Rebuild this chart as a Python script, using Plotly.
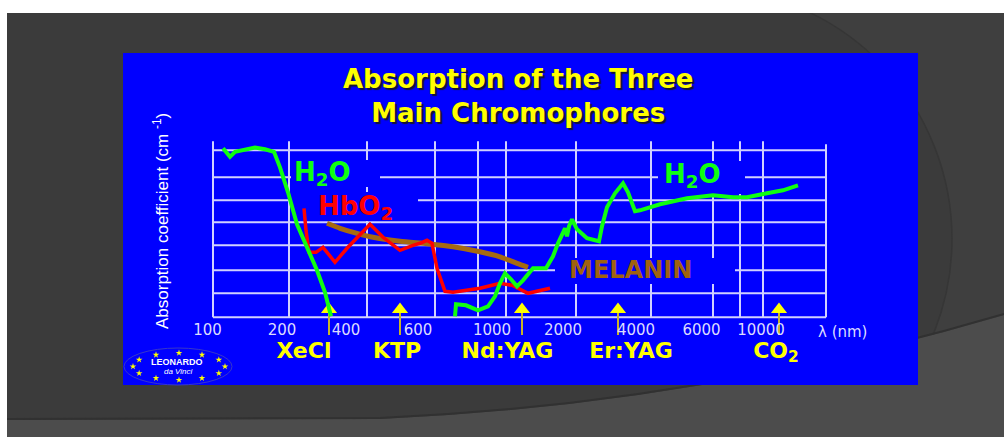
import numpy as np
import plotly.graph_objects as go

# Page size and the origin of the chart frame (in page pixels)
W, H = 1004, 437
X0, Y0 = 213.0, 317.3

# ---------------- data ----------------
# Water absorption (UV branch and IR branch, drawn as one broken line)
h2o_uv_x = [10, 17, 22, 42, 52, 61, 67, 75, 84, 94, 104, 112, 118]
h2o_uv_y = [169, 160.5, 165.5, 169.7, 168, 165.5, 150, 125, 93, 70, 47, 25, 1]
h2o_ir_x = [242, 243, 253, 265, 275, 282, 287, 292, 298, 304, 310, 320, 333, 340,
            345, 349, 352, 354, 356, 359, 364, 374, 386, 389, 394, 402, 410, 415,
            422, 427, 447, 474, 500, 520, 534, 554, 570, 585]
h2o_ir_y = [1, 13, 12, 7, 11, 21, 34, 44, 38, 31, 37, 49, 49, 61,
            74, 84, 89, 81, 91, 98, 88, 79, 76, 91, 110, 124, 134, 125,
            106, 107, 113, 119, 122, 120, 120, 124, 127, 132]

# Oxyhaemoglobin
hbo2_x = [91, 93, 96, 103, 110, 122, 134, 145, 157, 170, 187, 200, 207, 214,
          219, 224, 232, 240, 267, 287, 299, 315, 337]
hbo2_y = [109, 87, 65, 65, 70, 55, 69, 81, 93, 80, 67, 72, 74, 77,
          74, 49, 26, 25, 29, 34, 32, 24, 29]

# Melanin
melanin_x = [114, 127, 144, 160, 187, 214, 240, 267, 287, 304, 315]
melanin_y = [94, 89, 84, 80, 76, 73.5, 70.5, 65.5, 60.5, 54, 50]

# Wavelength axis labels
tick_text = ["100", "200", "400", "600", "1000", "2000", "4000", "6000", "10000"]
tick_pos = [-5.5, 69, 133, 205, 279, 350, 423, 488.5, 548]

# Laser lines
laser_names = ["XeCl", "KTP", "Nd:YAG", "Er:YAG", "CO<sub>2</sub>"]
laser_label_x = [91, 184, 294.5, 418, 563]
laser_arrow_x = [116, 187, 309, 405, 566]

# Chart grid
grid_x = [0, 76, 154, 222, 265, 293, 363, 438, 500, 527, 550, 613]
grid_top = [176, 176, 176, 176, 176, 176, 176, 176, 176, 176, 176, 173]
grid_y = [0, 24, 47, 72, 95, 117, 140, 167]

# ---------------- colours / fonts ----------------
BLUE = "#0000ff"
GRID = "#d0d0ff"
GREEN = "#10ff10"
RED = "#ff0000"
BROWN = "#a66a10"
YELLOW = "#ffff00"
BOLD = "DejaVu Sans"
ARIAL = "Liberation Sans, Arial, sans-serif"


def px(x):
    return x / W


def py(y):
    return 1 - y / H


def dx(x):
    return x - X0


def dy(y):
    return Y0 - y


shapes = []

# slide background
shapes.append(dict(type="rect", xref="paper", yref="paper", layer="below",
                   x0=px(7), x1=px(W), y0=py(H), y1=py(13),
                   fillcolor="#3f3f3f", line_width=0))
shapes.append(dict(type="circle", xref="paper", yref="paper", layer="below",
                   x0=px(452), x1=px(952), y0=py(490), y1=py(-12),
                   fillcolor="#3b3b3b", line=dict(color="#363636", width=1.5)))
shapes.append(dict(type="rect", xref="paper", yref="paper", layer="below",
                   x0=px(7), x1=px(700), y0=py(H), y1=py(13),
                   fillcolor="#3b3b3b", line_width=0))
band = (f"M {px(7)},{py(H)} L {px(7)},{py(420)} L {px(380)},{py(419)} "
        f"Q {px(700)},{py(405)} {px(W)},{py(315)} L {px(W)},{py(H)} Z")
shapes.append(dict(type="path", xref="paper", yref="paper", layer="below",
                   path=band, fillcolor="#4c4c4c", line_width=0))
edge = (f"M {px(7)},{py(419)} L {px(380)},{py(418)} "
        f"Q {px(700)},{py(404)} {px(W)},{py(314)}")
shapes.append(dict(type="path", xref="paper", yref="paper", layer="below",
                   path=edge, line=dict(color="#313131", width=2)))
# white page edges
shapes.append(dict(type="rect", xref="paper", yref="paper", layer="below",
                   x0=0, x1=1, y0=py(13), y1=1, fillcolor="white", line_width=0))
shapes.append(dict(type="rect", xref="paper", yref="paper", layer="below",
                   x0=0, x1=px(7), y0=0, y1=1, fillcolor="white", line_width=0))
# blue slide panel
shapes.append(dict(type="rect", xref="paper", yref="paper", layer="below",
                   x0=px(123), x1=px(918), y0=py(385), y1=py(53),
                   fillcolor=BLUE, line_width=0))
# logo ellipse
shapes.append(dict(type="circle", xref="paper", yref="paper", layer="below",
                   x0=px(124), x1=px(232), y0=py(385), y1=py(348),
                   line=dict(color="#3838c8", width=1)))

# grid
for gx, top in zip(grid_x, grid_top):
    shapes.append(dict(type="line", xref="x", yref="y", layer="below",
                       x0=gx, x1=gx, y0=0, y1=top, line=dict(color=GRID, width=2)))
for gy in grid_y:
    shapes.append(dict(type="line", xref="x", yref="y", layer="below",
                       x0=grid_x[0], x1=grid_x[-1], y0=gy, y1=gy,
                       line=dict(color=GRID, width=2)))

# blank panels behind the curve labels
for (a, b, c, d) in [(291, 160, 380, 187), (292, 192, 418, 221),
                     (658, 161, 745, 194), (555, 258, 735, 284)]:
    shapes.append(dict(type="rect", xref="x", yref="y", layer="below",
                       x0=dx(a), x1=dx(c), y0=dy(d), y1=dy(b),
                       fillcolor=BLUE, line_width=0))

fig = go.Figure()

# laser arrow stems and heads
stem_x, stem_y = [], []
for ax in laser_arrow_x:
    stem_x += [ax, ax, None]
    stem_y += [dy(311), dy(335), None]
fig.add_trace(go.Scatter(x=stem_x, y=stem_y, mode="lines",
                         line=dict(color="#c8b42a", width=2), hoverinfo="skip"))
fig.add_trace(go.Scatter(x=laser_arrow_x, y=[dy(309.5)] * len(laser_arrow_x),
                         mode="markers",
                         marker=dict(symbol="triangle-up", size=14, color=YELLOW,
                                     line_width=0), hoverinfo="skip"))

# curves
fig.add_trace(go.Scatter(x=melanin_x, y=melanin_y, mode="lines",
                         line=dict(color=BROWN, width=5, shape="spline", smoothing=0.6)))
fig.add_trace(go.Scatter(x=hbo2_x, y=hbo2_y, mode="lines",
                         line=dict(color=RED, width=3.5)))
fig.add_trace(go.Scatter(x=h2o_uv_x + [None] + h2o_ir_x,
                         y=h2o_uv_y + [None] + h2o_ir_y, mode="lines",
                         connectgaps=False, line=dict(color=GREEN, width=4)))

# wavelength labels
fig.add_trace(go.Scatter(x=tick_pos, y=[dy(331.7)] * len(tick_pos), mode="text",
                         text=tick_text, textposition="middle center",
                         textfont=dict(family="DejaVu Sans", size=15, color="#dcdcff"),
                         hoverinfo="skip"))
# laser names
fig.add_trace(go.Scatter(x=laser_label_x, y=[dy(352)] * len(laser_label_x), mode="text",
                         text=[f"<b>{n}</b>" for n in laser_names],
                         textposition="middle center",
                         textfont=dict(family=BOLD, size=22, color=YELLOW),
                         hoverinfo="skip"))

# EU stars of the logo
ang = np.linspace(0, 2 * np.pi, 12, endpoint=False)
fig.add_trace(go.Scatter(x=dx(179 + 46 * np.cos(ang)), y=dy(366.5 + 13.5 * np.sin(ang)),
                         mode="markers",
                         marker=dict(symbol="star", size=5, color=YELLOW, line_width=0),
                         hoverinfo="skip"))

annotations = []
title_font = dict(family=BOLD, size=26, color=YELLOW, shadow="2px 2px 1px #151530")
annotations.append(dict(xref="paper", yref="paper", x=px(517.5), y=py(96),
                        text="<b>Absorption of the Three</b><br><b>Main Chromophores</b>",
                        showarrow=False, align="center",
                        xanchor="center", yanchor="middle", font=title_font))
annotations.append(dict(xref="paper", yref="paper", x=px(161), y=py(221),
                        text="Absorption coefficient (cm <sup>-1</sup>)",
                        textangle=-90, showarrow=False, xanchor="center", yanchor="middle",
                        font=dict(family=ARIAL, size=17, color="white")))
label_font = dict(family=BOLD, size=26)
annotations.append(dict(x=dx(322), y=dy(173), text="<b>H<sub>2</sub>O</b>", showarrow=False,
                        font=dict(label_font, color=GREEN)))
annotations.append(dict(x=dx(692), y=dy(175), text="<b>H<sub>2</sub>O</b>", showarrow=False,
                        font=dict(label_font, color=GREEN)))
annotations.append(dict(x=dx(355), y=dy(207), text="<b>HbO<sub>2</sub></b>", showarrow=False,
                        font=dict(label_font, color=RED)))
annotations.append(dict(x=dx(630), y=dy(270), text="<b>MELANIN</b>", showarrow=False,
                        font=dict(family=BOLD, size=24, color="#a0620e")))
annotations.append(dict(x=dx(842), y=dy(331.7), text="λ (nm)", showarrow=False,
                        font=dict(family="DejaVu Sans", size=15, color="#dcdcff")))
annotations.append(dict(xref="paper", yref="paper", x=px(177), y=py(362),
                        xanchor="center", yanchor="middle",
                        text="<b>LEONARDO</b>", showarrow=False,
                        font=dict(family=ARIAL, size=9, color="white")))
annotations.append(dict(xref="paper", yref="paper", x=px(178), y=py(371.5),
                        xanchor="center", yanchor="middle",
                        text="<i>da Vinci</i>", showarrow=False,
                        font=dict(family=ARIAL, size=8, color="white")))

fig.update_layout(
    width=W, height=H, margin=dict(l=0, r=0, t=0, b=0),
    paper_bgcolor="white", plot_bgcolor="rgba(0,0,0,0)",
    showlegend=False, shapes=shapes, annotations=annotations,
    xaxis=dict(range=[-X0, W - X0], domain=[0, 1], visible=False, fixedrange=True),
    yaxis=dict(range=[Y0 - H, Y0], domain=[0, 1], visible=False, fixedrange=True),
)

fig.write_html("out.html")
